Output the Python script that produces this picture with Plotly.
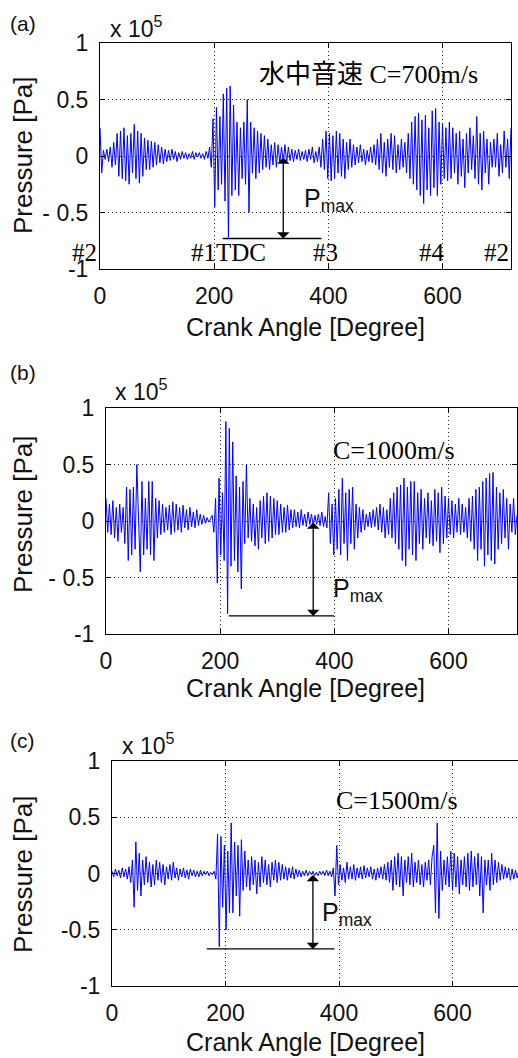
import plotly.graph_objects as go

# ---------------- data (pressure in units of 1e5 Pa, sampled every 3 deg) ----------------
PRESSURE_A = [
    0.25, -0.15, 0.05, -0.03, 0.06, -0.05, 0.08, -0.10, 0.12, -0.08,
    0.20, -0.18, 0.22, -0.20, 0.25, -0.22, 0.18, -0.25, 0.20, -0.15,
    0.28, -0.20, 0.22, -0.24, 0.20, -0.18, 0.16, -0.12, 0.14, -0.12,
    0.13, -0.10, 0.12, -0.08, 0.10, -0.06, 0.08, -0.07, 0.06, -0.05,
    0.05, -0.04, 0.06, -0.03, 0.04, -0.05, 0.03, -0.03, 0.04, -0.02,
    0.03, -0.03, 0.02, -0.02, 0.04, -0.03, 0.03, -0.01, 0.03, -0.02,
    0.02, -0.03, 0.04, -0.02, 0.08, -0.10, 0.33, -0.45, 0.43, -0.30,
    0.35, -0.25, 0.55, -0.40, 0.60, -0.72, 0.62, -0.35, 0.45, -0.30,
    0.30, -0.35, 0.25, -0.20, 0.30, -0.25, 0.50, -0.50, 0.30, -0.15,
    0.25, -0.20, 0.22, -0.15, 0.20, -0.12, 0.18, -0.10, 0.15, -0.12,
    0.10, -0.08, 0.12, -0.10, 0.10, -0.06, 0.08, -0.05, 0.10, -0.06,
    0.08, -0.04, 0.06, -0.05, 0.05, -0.03, 0.06, -0.04, 0.04, -0.03,
    0.05, -0.05, 0.06, -0.03, 0.08, -0.06, 0.04, -0.05, 0.08, -0.10,
    0.15, -0.12, 0.22, -0.20, 0.20, -0.22, 0.18, -0.20, 0.22, -0.15,
    0.20, -0.18, 0.15, -0.20, 0.12, -0.12, 0.15, -0.10, 0.10, -0.08,
    0.08, -0.06, 0.10, -0.05, 0.06, -0.08, 0.05, -0.05, 0.08, -0.06,
    0.10, -0.08, 0.15, -0.12, 0.20, -0.15, 0.12, -0.18, 0.15, -0.10,
    0.20, -0.12, 0.18, -0.15, 0.10, -0.12, 0.15, -0.10, 0.12, -0.15,
    0.20, -0.20, 0.30, -0.25, 0.35, -0.30, 0.38, -0.35, 0.32, -0.42,
    0.36, -0.30, 0.25, -0.35, 0.40, -0.28, 0.42, -0.35, 0.30, -0.25,
    0.28, -0.20, 0.25, -0.22, 0.30, -0.20, 0.25, -0.15, 0.20, -0.25,
    0.22, -0.18, 0.15, -0.28, 0.20, -0.15, 0.25, -0.12, 0.18, -0.20,
    0.35, -0.25, 0.20, -0.30, 0.22, -0.15, 0.15, -0.25, 0.12, -0.10,
    0.15, -0.10, 0.20, -0.18, 0.10, -0.15, 0.22, -0.10, 0.15, -0.20,
    0.25,
]

PRESSURE_B = [
    0.20, -0.10, 0.15, -0.12, 0.18, -0.15, 0.12, -0.18, 0.15, -0.10,
    0.12, -0.20, 0.30, -0.35, 0.28, -0.30, 0.30, -0.25, 0.50, 0.10,
    -0.45, 0.35, -0.30, 0.20, -0.25, 0.35, -0.30, 0.35, -0.35, 0.20,
    -0.15, 0.18, -0.12, 0.15, -0.10, 0.12, -0.08, 0.14, -0.12, 0.17,
    -0.10, 0.15, -0.08, 0.12, -0.10, 0.14, -0.06, 0.10, -0.08, 0.12,
    -0.05, 0.08, -0.06, 0.10, -0.04, 0.06, -0.03, 0.05, -0.02, 0.03,
    -0.01, 0.02, 0.05, -0.10, 0.20, -0.55, 0.38, -0.30, 0.25, -0.35,
    0.88, -0.82, 0.82, -0.40, 0.70, -0.35, 0.40, -0.45, 0.30, -0.60,
    0.35, -0.20, 0.50, -0.15, 0.20, -0.18, 0.15, -0.22, 0.12, -0.25,
    0.18, -0.15, 0.22, -0.20, 0.25, -0.18, 0.22, -0.15, 0.20, -0.12,
    0.18, -0.12, 0.15, -0.10, 0.12, -0.10, 0.14, -0.08, 0.10, -0.06,
    0.10, -0.05, 0.08, -0.06, 0.10, -0.04, 0.06, -0.05, 0.08, -0.03,
    0.06, -0.04, 0.05, -0.03, 0.06, -0.04, 0.08, -0.05, 0.04, -0.06,
    0.25, -0.20, 0.15, -0.30, 0.20, -0.25, 0.28, -0.30, 0.38, -0.20,
    0.25, -0.35, 0.28, -0.20, 0.30, -0.25, 0.15, -0.15, 0.12, -0.10,
    0.10, -0.08, 0.06, -0.05, 0.08, -0.06, 0.10, -0.05, 0.12, -0.08,
    0.15, -0.10, 0.12, -0.15, 0.10, -0.12, 0.20, -0.15, 0.25, -0.20,
    0.30, -0.25, 0.32, -0.35, 0.38, -0.40, 0.30, -0.25, 0.35, -0.30,
    0.35, -0.35, 0.25, -0.20, 0.28, -0.25, 0.20, -0.15, 0.25, -0.20,
    0.18, -0.22, 0.28, -0.18, 0.25, -0.28, 0.30, -0.20, 0.22, -0.15,
    0.20, -0.12, 0.18, -0.15, 0.15, -0.10, 0.20, -0.12, 0.15, -0.10,
    0.12, -0.15, 0.20, -0.18, 0.22, -0.25, 0.28, -0.35, 0.30, -0.25,
    0.35, -0.40, 0.38, -0.30, 0.42, -0.35, 0.43, -0.38, 0.30, -0.25,
    0.25, -0.20, 0.28, -0.15, 0.20, -0.25, 0.15, -0.10, 0.20, -0.12,
    0.05,
]

PRESSURE_C = [
    0.02, -0.03, 0.04, -0.02, 0.03, -0.04, 0.05, -0.03, 0.04, -0.05,
    0.06, -0.08, 0.12, -0.30, 0.28, -0.15, 0.18, -0.20, 0.12, -0.10,
    0.15, -0.08, 0.10, -0.12, 0.08, -0.10, 0.12, -0.06, 0.10, -0.08,
    0.08, -0.10, 0.06, -0.05, 0.08, -0.06, 0.10, -0.04, 0.05, -0.06,
    0.04, -0.03, 0.05, -0.04, 0.03, -0.05, 0.04, -0.02, 0.03, -0.03,
    0.02, -0.03, 0.03, -0.02, 0.02, -0.01, 0.02, -0.02, 0.01, -0.01,
    0.02, -0.05, 0.35, -0.65, 0.33, -0.30, 0.25, -0.50, 0.20, -0.35,
    0.45, -0.35, 0.28, -0.20, 0.25, -0.38, 0.30, -0.15, 0.20, -0.12,
    0.12, -0.15, 0.15, -0.10, 0.12, -0.18, 0.10, -0.12, 0.15, -0.08,
    0.12, -0.10, 0.08, -0.12, 0.10, -0.06, 0.12, -0.08, 0.10, -0.06,
    0.08, -0.05, 0.06, -0.06, 0.05, -0.04, 0.06, -0.05, 0.04, -0.03,
    0.03, -0.03, 0.02, -0.02, 0.03, -0.02, 0.02, -0.01, 0.02, -0.02,
    0.01, -0.02, 0.02, -0.01, 0.02, -0.02, 0.03, -0.02, 0.02, -0.03,
    0.05, -0.20, 0.25, -0.10, 0.08, -0.06, 0.05, -0.08, 0.10, -0.05,
    0.06, -0.05, 0.08, -0.06, 0.05, -0.04, 0.06, -0.05, 0.07, -0.04,
    0.05, -0.03, 0.06, -0.05, 0.04, -0.06, 0.05, -0.04, 0.06, -0.05,
    0.08, -0.06, 0.10, -0.08, 0.12, -0.15, 0.15, -0.10, 0.18, -0.12,
    0.15, -0.20, 0.12, -0.08, 0.15, -0.10, 0.18, -0.12, 0.10, -0.08,
    0.12, -0.10, 0.08, -0.12, 0.10, -0.06, 0.12, -0.10, 0.15, 0.25,
    -0.35, 0.45, -0.40, 0.20, -0.15, 0.12, -0.10, 0.15, -0.12, 0.20,
    -0.15, 0.18, -0.12, 0.15, -0.18, 0.12, -0.10, 0.15, -0.12, 0.18,
    -0.15, 0.20, -0.12, 0.15, -0.10, 0.18, -0.20, 0.15, -0.35, 0.12,
    -0.10, 0.12, -0.15, 0.18, -0.10, 0.12, -0.08, 0.10, -0.06, 0.08,
    -0.05, 0.06, -0.04, 0.05, -0.06, 0.04, -0.05, 0.03, -0.04, 0.03,
    0.02,
]

ANGLE_STEP = 3
X_TICKS = [0, 200, 400, 600]
X_TICK_LABELS = ["0", "200", "400", "600"]
Y_TICKS = [-1, -0.5, 0, 0.5, 1]
Y_TICK_LABELS_AB = ["-1", "- 0.5", "0", "0.5", "1"]
Y_TICK_LABELS_C = ["-1", "-0.5", "0", "0.5", "1"]

PANEL_LETTERS = ["(a)", "(b)", "(c)"]
SPEED_LABELS = [
    '<span style="font-family:\'Noto Sans CJK JP\'">水中音速</span> C=700m/s',
    "C=1000m/s",
    "C=1500m/s",
]
CYL_LABELS = ["#2", "#1TDC", "#3", "#4", "#2"]
# Pmax annotation: arrow angle, bottom level, horizontal line start/end angle
PMAX_ARROW_X = [321, 363, 354]
PMAX_LEVEL = [-0.73, -0.84, -0.67]
PMAX_LINE_X0 = [215, 215, 167]
PMAX_LINE_X1 = [388, 400, 392]

# ---------------- layout geometry (pixels) ----------------
W, H = 518, 1058
SANS = "Liberation Sans, Arial, sans-serif"
SERIF = "Liberation Serif, Times New Roman, serif"


def px(xp):
    return xp / W


def py(yp):
    return 1 - yp / H


# (left, right, top, bottom, xmax)
GEOM = [
    (100, 511, 43, 269, 720),
    (106, 517, 408, 634, 720),
    (112, 518, 761, 986, 715.4),
]

fig = go.Figure()
series = [PRESSURE_A, PRESSURE_B, PRESSURE_C]
annotations = []
shapes = []

for i, vals in enumerate(series):
    n = i + 1
    xa = "x" if n == 1 else f"x{n}"
    ya = "y" if n == 1 else f"y{n}"
    angles = [ANGLE_STEP * k for k in range(len(vals))]
    fig.add_trace(go.Scatter(
        x=angles, y=vals, mode="lines",
        line=dict(color="#0000FF", width=1),
        xaxis=xa, yaxis=ya, showlegend=False, hoverinfo="skip",
    ))
    L, R, T, B, xmax = GEOM[i]
    common = dict(
        showline=True, linecolor="black", linewidth=1,
        ticks="inside", ticklen=5, tickcolor="black",
        showgrid=True, gridcolor="#222", griddash="1px,3px", gridwidth=1,
        zeroline=False, automargin=False,
        tickfont=dict(family=SANS, size=23, color="#111"),
    )
    fig.update_layout(**{
        ("xaxis" if n == 1 else f"xaxis{n}"): dict(
            common, domain=[px(L), px(R)], range=[0, xmax],
            tickvals=X_TICKS, ticktext=X_TICK_LABELS,
            mirror="ticks", anchor=ya, ticklabelstandoff=6,
        ),
        ("yaxis" if n == 1 else f"yaxis{n}"): dict(
            common, domain=[py(B), py(T)], range=[-1, 1],
            tickvals=Y_TICKS,
            ticktext=Y_TICK_LABELS_C if n == 3 else Y_TICK_LABELS_AB,
            mirror="ticks" if n < 3 else False, anchor=xa,
            ticklabelstandoff=6,
        ),
    })

    # panel letter
    annotations.append(dict(text=PANEL_LETTERS[i], xref="paper", yref="paper",
                            x=px(8), y=py([24, 373, 740][i]),
                            xanchor="left", yanchor="middle", showarrow=False,
                            font=dict(family=SANS, size=21, color="#111")))
    # exponent label
    exp_y = [27, 390, 744][i]
    exp_x = [108, 113, 120][i]
    annotations.append(dict(text="x 10<sup>5</sup>", xref="paper", yref="paper",
                            x=px(exp_x), y=py(exp_y), xanchor="left", yanchor="middle",
                            showarrow=False, font=dict(family=SANS, size=23, color="#111")))
    # axis titles
    annotations.append(dict(text="Crank Angle [Degree]", xref="paper", yref="paper",
                            x=px(305), y=py([327, 688, 1042][i]), xanchor="center",
                            yanchor="middle", showarrow=False,
                            font=dict(family=SANS, size=25, color="#111")))
    annotations.append(dict(text="Pressure [Pa]", xref="paper", yref="paper",
                            x=px(23), y=py([155, 514, 874][i]), xanchor="center",
                            yanchor="middle", textangle=-90, showarrow=False,
                            font=dict(family=SANS, size=26, color="#111")))
    # speed label
    sp_x = [257, 331, 334][i]
    sp_y = [72, 450, 800][i]
    annotations.append(dict(text=SPEED_LABELS[i], xref="paper", yref="paper",
                            x=px(sp_x), y=py(sp_y), xanchor="left", yanchor="middle",
                            showarrow=False, font=dict(family=SERIF, size=26, color="black")))
    # Pmax arrow
    annotations.append(dict(text="", x=PMAX_ARROW_X[i], y=PMAX_LEVEL[i],
                            ax=PMAX_ARROW_X[i], ay=0, xref=xa, yref=ya,
                            axref=xa, ayref=ya, showarrow=True,
                            arrowside="end+start", arrowhead=1, startarrowhead=1,
                            arrowsize=1.6, startarrowsize=1.6, arrowwidth=1.3,
                            arrowcolor="black"))
    shapes.append(dict(type="line", xref=xa, yref=ya,
                       x0=PMAX_LINE_X0[i], x1=PMAX_LINE_X1[i],
                       y0=PMAX_LEVEL[i], y1=PMAX_LEVEL[i],
                       line=dict(color="black", width=1.3)))
    pm_x = [302, 331, 320][i]
    pm_y = [200, 590, 914][i]
    annotations.append(dict(text="P<sub>max</sub>", xref="paper", yref="paper",
                            x=px(pm_x), y=py(pm_y), xanchor="left", yanchor="middle",
                            showarrow=False, font=dict(family=SANS, size=25, color="#111")))

# cylinder labels for panel (a)
cyl_pos = [(99, "right"), (189, "left"), (311, "left"), (417, "left"), (511, "right")]
for lab, (xp, anc) in zip(CYL_LABELS, cyl_pos):
    annotations.append(dict(text=lab, xref="paper", yref="paper", x=px(xp), y=py(253),
                            xanchor=anc, yanchor="middle", showarrow=False,
                            font=dict(family=SERIF, size=25, color="black")))

fig.update_layout(
    template="none",
    width=W, height=H, margin=dict(l=0, r=0, t=0, b=0, pad=0, autoexpand=False),
    paper_bgcolor="white", plot_bgcolor="white",
    annotations=annotations, shapes=shapes,
)

fig.write_html(
    "out.html",
    config={"displayModeBar": False},
    post_script="document.body.style.margin='0';document.body.style.overflow='hidden';",
)
